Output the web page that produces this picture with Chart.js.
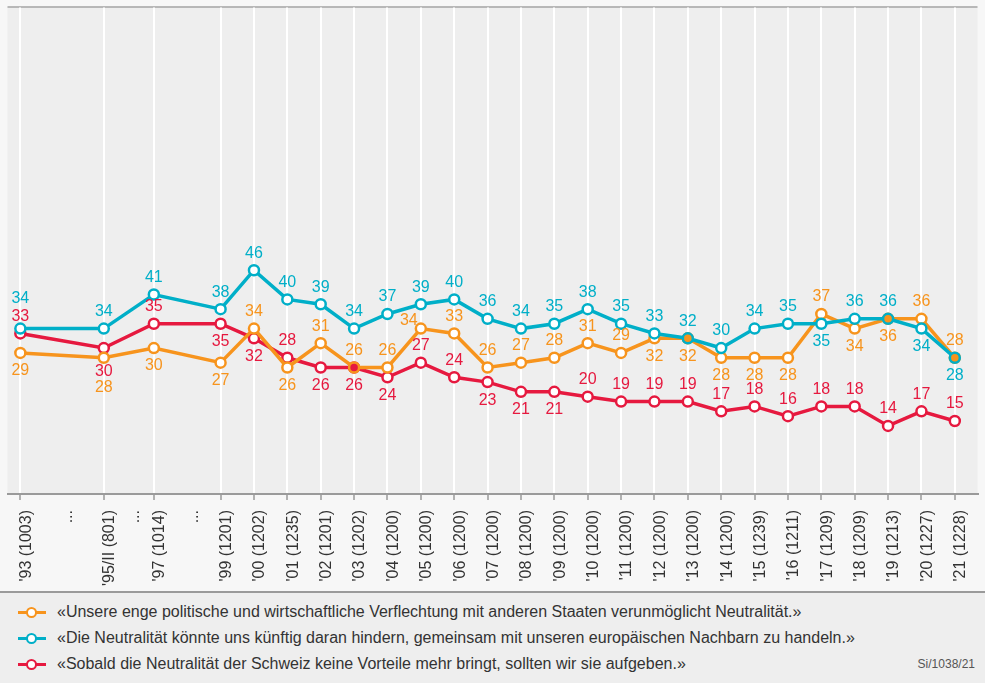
<!DOCTYPE html>
<html>
<head>
<meta charset="utf-8">
<script src="https://cdn.jsdelivr.net/npm/chart.js@4.4.1/dist/chart.umd.min.js"></script>
<style>
    body { margin: 0; background: #f7f7f7; font-family: 'Liberation Sans', Arial, sans-serif; }
    #wrap { position: relative; width: 985px; height: 683px; overflow: hidden; }
    #chart { position: absolute; left: 0; top: 0; }
    #legend { position: absolute; left: 0; top: 591px; width: 985px; height: 92px; background: #eeeeee; border-top: 2px solid #9a9a9a; }
    .item { position: absolute; left: 18px; height: 20px; font-size: 16px; color: #333; line-height: 20px; }
    .item .mark { position: absolute; left: 0; top: 9px; width: 28px; height: 3px; }
    .item .dot { position: absolute; left: 8px; top: -4px; width: 7px; height: 7px; border-radius: 50%; background: #fff; border: 2.5px solid; }
    .item span.txt { position: absolute; left: 39px; white-space: nowrap; }
    #src { position: absolute; right: 10px; top: 64px; font-size: 12px; color: #555; }
</style>
</head>
<body>
<div id="wrap">
    <canvas id="chart" width="985" height="592"></canvas>
    <div id="legend"></div>
</div>
<script>
// survey years (x positions) and tick labels
const years = [1993, 1995.5, 1997, 1999, 2000, 2001, 2002, 2003, 2004, 2005, 2006, 2007, 2008,
    2009, 2010, 2011, 2012, 2013, 2014, 2015, 2016, 2017, 2018, 2019, 2020, 2021];
const tickLabels = ["'93 (1003)", "'95/II (801)", "'97 (1014)", "'99 (1201)", "'00 (1202)", "'01 (1235)",
    "'02 (1201)", "'03 (1202)", "'04 (1200)", "'05 (1200)", "'06 (1200)", "'07 (1200)", "'08 (1200)",
    "'09 (1200)", "'10 (1200)", "'11 (1200)", "'12 (1200)", "'13 (1200)", "'14 (1200)", "'15 (1239)",
    "'16 (1211)", "'17 (1209)", "'18 (1209)", "'19 (1213)", "'20 (1227)", "'21 (1228)"];
const gaps = [1994.25, 1996.25, 1998];

const verflechtung = [29, 28, 30, 27, 34, 26, 31, 26, 26, 34, 33, 26, 27, 28, 31, 29, 32, 32, 28, 28, 28, 37, 34, 36, 36, 28];
const hindern = [34, 34, 41, 38, 46, 40, 39, 34, 37, 39, 40, 36, 34, 35, 38, 35, 33, 32, 30, 34, 35, 35, 36, 36, 34, 28];
const aufgeben = [33, 30, 35, 35, 32, 28, 26, 26, 24, 27, 24, 23, 21, 21, 20, 19, 19, 19, 17, 18, 16, 18, 18, 14, 17, 15];

const seriesNames = [
    '«Unsere enge politische und wirtschaftliche Verflechtung mit anderen Staaten verunmöglicht Neutralität.»',
    '«Die Neutralität könnte uns künftig daran hindern, gemeinsam mit unseren europäischen Nachbarn zu handeln.»',
    '«Sobald die Neutralität der Schweiz keine Vorteile mehr bringt, sollten wir sie aufgeben.»'
];

const ORANGE = '#f7941d', CYAN = '#00afc8', RED = '#e6193f';

// where the value label sits: a = above, A = higher above, b = below, B = lower below, l = up-left
const posOrange = 'bBbbabaaalaaaaaabbbbbabbaa';
const posCyan   = 'Aaaaaaaaaaaaaaaaaaaaabaabb';
const posRed    = 'aBab' + 'ba' + 'bbb' + 'aa' + 'bbb' + 'aaaaaaaaaaaa';

function pts(vals) {
    return vals.map((v, i) => ({ x: years[i], y: v }));
}

// ring over a coinciding point of a lower series gets that series' colour as fill
function fillFor(vals, lower) {
    return vals.map((v, i) => {
        for (const [arr, col] of lower) {
            if (arr[i] === v) return col;
        }
        return '#ffffff';
    });
}

const bgPlugin = {
    id: 'bg',
    beforeDraw(chart) {
        const { ctx, chartArea: a } = chart;
        ctx.save();
        ctx.fillStyle = '#eeeeee';
        ctx.fillRect(a.left, a.top, a.right - a.left, a.bottom - a.top);
        ctx.strokeStyle = '#a3a3a3';
        ctx.lineWidth = 1.5;
        ctx.beginPath();
        ctx.moveTo(a.left, a.top - 0.5);
        ctx.lineTo(a.right, a.top - 0.5);
        ctx.stroke();
        ctx.restore();
    }
};

const labelPlugin = {
    id: 'valueLabels',
    afterDatasetsDraw(chart) {
        const ctx = chart.ctx;
        ctx.save();
        ctx.font = '16px "Liberation Sans", Arial, sans-serif';
        ctx.textAlign = 'center';
        ctx.textBaseline = 'middle';
        chart.data.datasets.forEach((ds, di) => {
            const meta = chart.getDatasetMeta(di);
            ctx.fillStyle = ds.borderColor;
            meta.data.forEach((p, i) => {
                const pos = ds.labelPos[i];
                let x = p.x, y = p.y;
                if (pos === 'a') y -= 17;
                else if (pos === 'A') y -= 30;
                else if (pos === 'b') y += 18;
                else if (pos === 'B') y += (ds.borderColor === ORANGE ? 30 : 24);
                else if (pos === 'l') { x -= 12; y -= 8; }
                ctx.fillText(ds.data[i].y, x, y);
            });
        });
        ctx.restore();
    }
};

const common = {
    borderWidth: 3.5,
    pointRadius: 5,
    pointHoverRadius: 5,
    pointBorderWidth: 2.5,
    tension: 0
};

new Chart(document.getElementById('chart'), {
    type: 'line',
    data: {
        datasets: [
            Object.assign({}, common, {
                label: seriesNames[1], data: pts(hindern), borderColor: CYAN, pointBorderColor: CYAN,
                pointBackgroundColor: fillFor(hindern, [[verflechtung, ORANGE], [aufgeben, RED]]),
                labelPos: posCyan.split(''), order: 0
            }),
            Object.assign({}, common, {
                label: seriesNames[0], data: pts(verflechtung), borderColor: ORANGE, pointBorderColor: ORANGE,
                pointBackgroundColor: fillFor(verflechtung, [[aufgeben, RED]]),
                labelPos: posOrange.split(''), order: 1
            }),
            Object.assign({}, common, {
                label: seriesNames[2], data: pts(aufgeben), borderColor: RED, pointBorderColor: RED,
                pointBackgroundColor: fillFor(aufgeben, []),
                labelPos: posRed.split(''), order: 2
            })
        ]
    },
    options: {
        responsive: false,
        animation: false,
        devicePixelRatio: 1,
        layout: { padding: { left: 4, top: 4, right: 0, bottom: 0 } },
        plugins: { legend: { display: false }, tooltip: { enabled: false } },
        scales: {
            x: {
                type: 'linear',
                min: 1992.615,
                max: 2021.68,
                afterBuildTicks(scale) {
                    const vals = years.concat(gaps).sort((a, b) => a - b);
                    scale.ticks = vals.map(v => ({ value: v }));
                },
                afterFit(scale) { scale.height = 98; },
                grid: {
                    color: c => (c.tick && gaps.includes(c.tick.value)) ? 'rgba(0,0,0,0)' : '#ffffff',
                    tickColor: c => (c.tick && gaps.includes(c.tick.value)) ? 'rgba(0,0,0,0)' : '#9a9a9a',
                    lineWidth: 2,
                    tickLength: 6,
                    tickWidth: 1.5
                },
                border: { color: '#9a9a9a', width: 2 },
                ticks: {
                    autoSkip: false,
                    minRotation: 90,
                    maxRotation: 90,
                    padding: 10,
                    labelOffset: 6,
                    color: '#333',
                    font: { family: '"Liberation Sans", Arial, sans-serif', size: 16 },
                    callback(v) {
                        const i = years.indexOf(v);
                        return i >= 0 ? tickLabels[i] : '...';
                    }
                }
            },
            y: {
                display: false,
                min: 0,
                max: 100
            }
        }
    },
    plugins: [bgPlugin, labelPlugin]
});

// legend
const legendColors = [ORANGE, CYAN, RED];
const legend = document.getElementById('legend');
seriesNames.forEach((name, i) => {
    const item = document.createElement('div');
    item.className = 'item';
    item.style.top = (9 + i * 26) + 'px';
    item.innerHTML = '<div class="mark" style="background:' + legendColors[i] + '">' +
        '<div class="dot" style="border-color:' + legendColors[i] + '"></div></div>' +
        '<span class="txt">' + name + '</span>';
    legend.appendChild(item);
});
const src = document.createElement('div');
src.id = 'src';
src.textContent = 'Si/1038/21';
legend.appendChild(src);
</script>
</body>
</html>
